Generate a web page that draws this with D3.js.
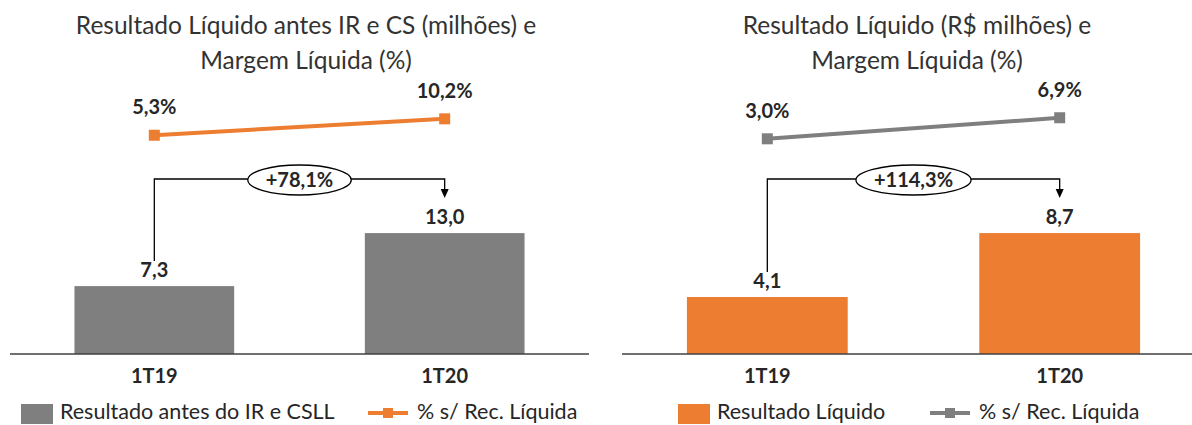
<!DOCTYPE html>
<html>
<head>
<meta charset="utf-8">
<script src="https://cdn.jsdelivr.net/npm/d3@7"></script>
<style>
  body { margin: 0; background: #fff; }
  text { font-family: Lato, "Open Sans", sans-serif; fill: #262626; }
</style>
</head>
<body>
<svg width="1192" height="425"></svg>
<script>
var svg = d3.select("svg"),
    width = +svg.attr("width"),
    height = +svg.attr("height");

// Data
var categories = ["1T19", "1T20"];
var resultadoAntesIR = [7.3, 13.0];
var margemAntesIR = [5.3, 10.2];
var resultadoLiquido = [4.1, 8.7];
var margemLiquida = [3.0, 6.9];
var variacao = ["+78,1%", "+114,3%"];
var titulos = [
  ["Resultado Líquido antes IR e CS (milhões) e", "Margem Líquida (%)"],
  ["Resultado Líquido (R$ milhões) e", "Margem Líquida (%)"]
];
var legendas = [
  ["Resultado antes do IR e CSLL", "% s/ Rec. Líquida"],
  ["Resultado Líquido", "% s/ Rec. Líquida"]
];

var orange = "#ED7D31", gray = "#7F7F7F";

var ptBR = d3.formatLocale({decimal: ",", thousands: ".", grouping: [3], currency: ["R$", ""]});
var fmt = ptBR.format(".1f");

var baseY = 354;

// Each panel: its own scales (bar values and margin line)
var panels = [
  {bars: resultadoAntesIR, line: margemAntesIR, change: variacao[0], title: titulos[0], legend: legendas[0],
   barColor: gray, lineColor: orange, range: [10, 589], barMax: 20, barTop: 168,
   lineMax: 20, lineRange: [153, 86], titleX: 306, legendX: [21, 368]},
  {bars: resultadoLiquido, line: margemLiquida, change: variacao[1], title: titulos[1], legend: legendas[1],
   barColor: orange, lineColor: gray, range: [622, 1205], barMax: 14, barTop: 159.4,
   lineMax: 10, lineRange: [155, 101], titleX: 917, legendX: [678, 930]}
];

panels.forEach(drawPanel);

function drawPanel(p) {
  var g = svg.append("g");

  var x = d3.scaleBand()
      .domain(categories)
      .range(p.range)
      .paddingInner(0.45)
      .paddingOuter(0.222);
  var y = d3.scaleLinear().domain([0, p.barMax]).range([baseY, p.barTop]);
  var yLine = d3.scaleLinear().domain([0, p.lineMax]).range(p.lineRange);
  var cx = function (i) { return x(categories[i]) + x.bandwidth() / 2; };

  // Title
  g.append("text")
      .attr("x", p.titleX)
      .attr("text-anchor", "middle")
      .style("font-size", "24.5px")
      .style("fill", "#333")
      .selectAll("tspan")
      .data(p.title)
      .enter().append("tspan")
        .attr("x", p.titleX)
        .attr("y", function (d, i) { return 34 + i * 35; })
        .text(function (d) { return d; });

  // Bars
  g.selectAll("rect.bar")
      .data(p.bars)
      .enter().append("rect")
        .attr("class", "bar")
        .attr("x", function (d, i) { return x(categories[i]); })
        .attr("width", x.bandwidth())
        .attr("y", function (d) { return y(d); })
        .attr("height", function (d) { return baseY - y(d); })
        .attr("fill", p.barColor);

  g.selectAll("text.barlabel")
      .data(p.bars)
      .enter().append("text")
        .attr("class", "barlabel")
        .attr("x", function (d, i) { return cx(i); })
        .attr("y", function (d) { return y(d) - 9; })
        .attr("text-anchor", "middle")
        .style("font-size", "20px")
        .style("font-weight", "bold")
        .text(function (d) { return fmt(d); });

  // Baseline
  g.append("line")
      .attr("x1", p.range[0]).attr("x2", p.range[1])
      .attr("y1", baseY).attr("y2", baseY)
      .attr("stroke", "#404040")
      .attr("stroke-width", 1.5);

  g.selectAll("text.cat")
      .data(categories)
      .enter().append("text")
        .attr("class", "cat")
        .attr("x", function (d) { return x(d) + x.bandwidth() / 2; })
        .attr("y", 383)
        .attr("text-anchor", "middle")
        .style("font-size", "20px")
        .style("font-weight", "bold")
        .text(function (d) { return d; });

  // Margin line
  var line = d3.line()
      .x(function (d, i) { return cx(i); })
      .y(function (d) { return yLine(d); });
  g.append("path")
      .datum(p.line)
      .attr("d", line)
      .attr("fill", "none")
      .attr("stroke", p.lineColor)
      .attr("stroke-width", 4);
  g.selectAll("rect.marker")
      .data(p.line)
      .enter().append("rect")
        .attr("class", "marker")
        .attr("x", function (d, i) { return cx(i) - 5.5; })
        .attr("y", function (d) { return yLine(d) - 5.5; })
        .attr("width", 11).attr("height", 11)
        .attr("fill", p.lineColor);
  g.selectAll("text.linelabel")
      .data(p.line)
      .enter().append("text")
        .attr("class", "linelabel")
        .attr("x", function (d, i) { return cx(i); })
        .attr("y", function (d) { return yLine(d) - 21; })
        .attr("text-anchor", "middle")
        .style("font-size", "20px")
        .style("font-weight", "bold")
        .text(function (d) { return fmt(d) + "%"; });

  // Growth bracket
  var bY = 179,
      x0 = cx(0), x1 = cx(1),
      startY = y(p.bars[0]) - 25,
      tipY = 198;
  g.append("path")
      .attr("d", "M" + x0 + "," + startY + "V" + bY + "H" + x1 + "V" + (tipY - 8))
      .attr("fill", "none")
      .attr("stroke", "#000")
      .attr("stroke-width", 1.3);
  g.append("path")
      .attr("d", "M" + (x1 - 4) + "," + (tipY - 9) + "L" + (x1 + 4) + "," + (tipY - 9) + "L" + x1 + "," + tipY + "Z")
      .attr("fill", "#000");

  var mid = (x0 + x1) / 2;
  var ell = g.append("ellipse")
      .attr("cx", mid).attr("cy", bY + 1)
      .attr("ry", 15)
      .attr("fill", "#fff")
      .attr("stroke", "#000")
      .attr("stroke-width", 1.3);
  var lbl = g.append("text")
      .attr("x", mid).attr("y", bY + 8)
      .attr("text-anchor", "middle")
      .style("font-size", "20px")
      .style("font-weight", "bold")
      .text(p.change);
  ell.attr("rx", lbl.node().getComputedTextLength() / 2 + 18);

  // Legend
  var leg = g.append("g");
  leg.append("rect")
      .attr("x", p.legendX[0]).attr("y", 404)
      .attr("width", 32).attr("height", 20)
      .attr("fill", p.barColor);
  leg.append("text")
      .attr("x", p.legendX[0] + 39).attr("y", 419)
      .style("font-size", "21.5px")
      .text(p.legend[0]);
  leg.append("line")
      .attr("x1", p.legendX[1]).attr("x2", p.legendX[1] + 40)
      .attr("y1", 413).attr("y2", 413)
      .attr("stroke", p.lineColor)
      .attr("stroke-width", 4);
  leg.append("rect")
      .attr("x", p.legendX[1] + 15).attr("y", 408)
      .attr("width", 10).attr("height", 10)
      .attr("fill", p.lineColor);
  leg.append("text")
      .attr("x", p.legendX[1] + 49).attr("y", 419)
      .style("font-size", "21.5px")
      .text(p.legend[1]);
}
</script>
</body>
</html>
